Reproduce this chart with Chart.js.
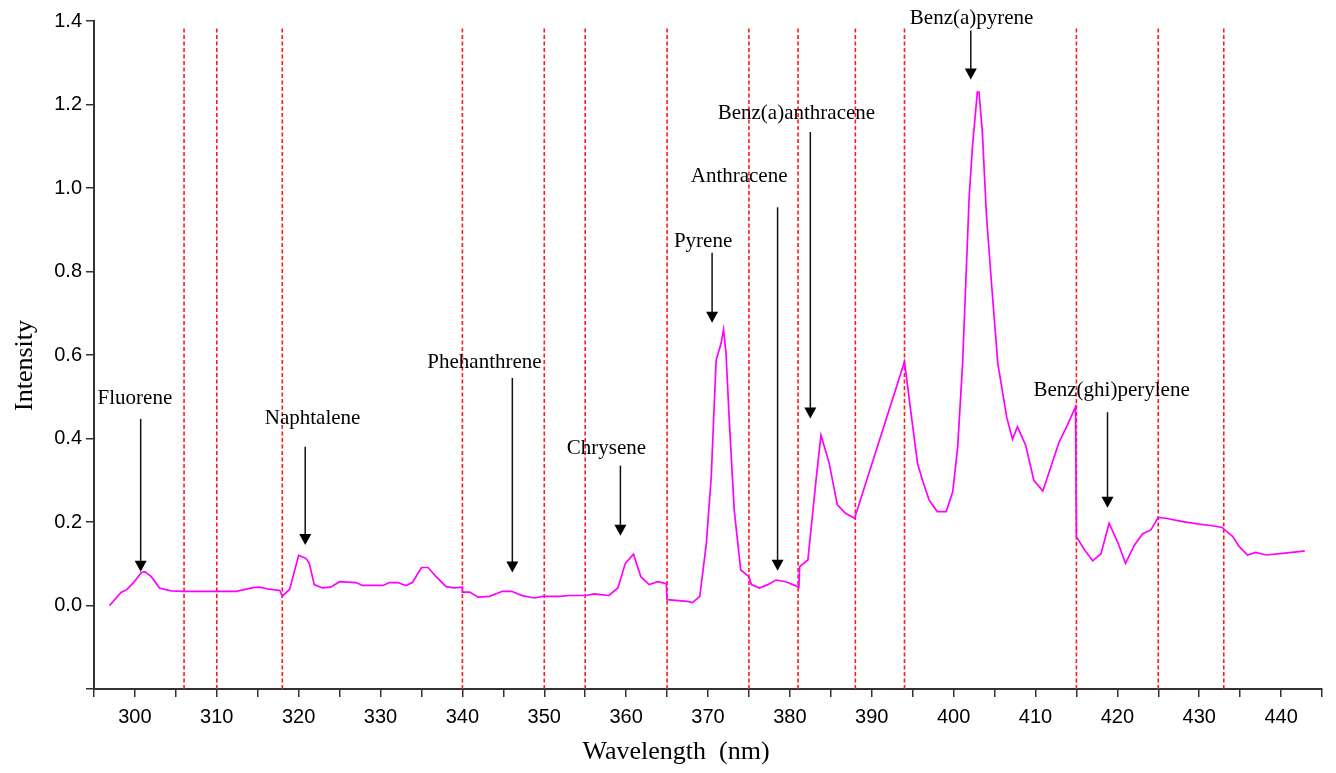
<!DOCTYPE html>
<html>
<head>
<meta charset="utf-8">
<script src="https://cdn.jsdelivr.net/npm/chart.js@4"></script>
<style>
  body { margin: 0; background: #fff; }
  #wrap { width: 1336px; height: 773px; }
</style>
</head>
<body>
<div id="wrap"><canvas id="spectrum"></canvas></div>
<script>
// spectrum (nm, intensity)
var wavelength = [
  296.9, 298.3, 299.0, 299.8, 300.8, 301.2, 302.0, 303.0, 304.4, 305.9,
  312.4, 314.4, 315.2, 316.4, 317.7, 318.0, 318.9, 320.0, 320.9, 321.3,
  321.9, 322.9, 323.9, 325.0, 327.0, 327.8, 330.3, 331.1, 332.1, 333.1,
  333.9, 335.0, 335.8, 336.8, 338.0, 339.0, 340.0, 340.0, 340.9, 341.9,
  343.3, 344.9, 346.0, 347.4, 348.8, 349.8, 351.9, 353.1, 355.1, 356.1,
  356.9, 357.9, 359.0, 359.9, 360.9, 361.8, 362.8, 363.9, 364.9, 365.0,
  367.5, 368.1, 369.0, 369.8, 370.4, 370.7, 371.0, 371.6, 371.9, 372.2,
  372.6, 373.2, 374.0, 375.0, 375.3, 376.3, 377.3, 378.3, 379.5, 381.1,
  381.2, 382.2, 382.6, 383.2, 383.8, 384.8, 385.8, 386.8, 387.9, 388.1,
  394.0, 395.0, 395.6, 396.2, 397.0, 398.0, 399.1, 399.9, 400.5, 401.1,
  401.5, 401.9, 402.3, 402.9, 403.1, 403.5, 404.0, 404.6, 405.4, 406.5,
  407.2, 407.8, 408.8, 409.8, 410.9, 411.9, 412.9, 413.9, 414.9, 415.0,
  416.0, 417.0, 418.0, 419.0, 420.1, 421.0, 422.1, 423.1, 424.1, 425.0,
  425.9, 428.0, 430.0, 431.6, 432.8, 434.1, 434.9, 435.9, 436.9, 438.2,
  440.2, 442.2, 442.9
];
var intensity = [
  0.000, 0.031, 0.038, 0.054, 0.079, 0.081, 0.069, 0.042, 0.035, 0.034,
  0.034, 0.043, 0.044, 0.039, 0.036, 0.022, 0.039, 0.120, 0.113, 0.101,
  0.050, 0.042, 0.044, 0.057, 0.055, 0.048, 0.048, 0.055, 0.055, 0.048,
  0.055, 0.091, 0.091, 0.069, 0.045, 0.042, 0.044, 0.032, 0.032, 0.020,
  0.022, 0.034, 0.034, 0.023, 0.018, 0.022, 0.022, 0.024, 0.024, 0.028,
  0.026, 0.024, 0.042, 0.101, 0.123, 0.069, 0.050, 0.057, 0.052, 0.014,
  0.010, 0.007, 0.022, 0.149, 0.309, 0.452, 0.588, 0.628, 0.661, 0.604,
  0.444, 0.229, 0.085, 0.069, 0.050, 0.042, 0.050, 0.061, 0.057, 0.044,
  0.093, 0.109, 0.185, 0.301, 0.408, 0.341, 0.241, 0.221, 0.209, 0.221,
  0.584, 0.430, 0.340, 0.300, 0.253, 0.225, 0.225, 0.273, 0.380, 0.580,
  0.779, 0.978, 1.098, 1.230, 1.230, 1.138, 0.939, 0.779, 0.580, 0.450,
  0.398, 0.428, 0.384, 0.300, 0.274, 0.333, 0.392, 0.432, 0.476, 0.165,
  0.133, 0.107, 0.124, 0.197, 0.149, 0.101, 0.145, 0.172, 0.181, 0.211,
  0.209, 0.201, 0.195, 0.191, 0.187, 0.165, 0.141, 0.121, 0.127, 0.121,
  0.125, 0.129, 0.131
];

// red dotted window boundaries (nm)
var windowEdges = [306, 310, 318, 340, 350, 355, 365, 375, 381, 388, 394, 415, 425, 433];

// peak labels
var compounds  = ['Fluorene', 'Naphtalene', 'Phehanthrene', 'Chrysene', 'Pyrene', 'Anthracene', 'Benz(a)anthracene', 'Benz(a)pyrene', 'Benz(ghi)perylene'];
var labelNm    = [300.0, 321.7, 342.7, 357.6, 369.4, 373.8, 380.8, 402.2, 419.3];
var labelInt   = [0.497, 0.449, 0.583, 0.377, 0.872, 1.028, 1.179, 1.406, 0.516];
var arrowNm    = [300.7, 320.8, 346.1, 359.3, 370.5, 378.5, 382.5, 402.1, 418.8];
var arrowFrom  = [0.447, 0.380, 0.545, 0.335, 0.845, 0.954, 1.134, 1.377, 0.463];
var arrowTo    = [0.081, 0.145, 0.079, 0.167, 0.677, 0.083, 0.448, 1.260, 0.234];

var yTicks = [-0.2, 0, 0.2, 0.4, 0.6, 0.8, 1.0, 1.2, 1.4];
var xTitle = 'Wavelength  (nm)';
var yTitle = 'Intensity';

var serif = '"Liberation Serif", "Times New Roman", serif';
var sans = '"Liberation Sans", Arial, sans-serif';

var spectrumData = wavelength.map(function (w, i) { return { x: w, y: intensity[i] }; });

var edgeSets = windowEdges.map(function (w) {
  return {
    data: [{ x: w, y: -0.2 }, { x: w, y: 1.385 }],
    borderColor: 'rgb(255,25,25)',
    borderWidth: 1.6,
    borderDash: [4, 2.5],
    pointRadius: 0,
    order: 2
  };
});

// labels + arrows, and the two axis titles (they sit off-centre in the original)
var peakLabels = {
  id: 'peakLabels',
  afterDatasetsDraw: function (chart) {
    var ctx = chart.ctx, xs = chart.scales.x, ys = chart.scales.y;
    ctx.save();
    ctx.fillStyle = '#000';
    ctx.strokeStyle = '#111';
    ctx.lineWidth = 1.5;
    ctx.font = '21px ' + serif;
    ctx.textAlign = 'center';
    ctx.textBaseline = 'middle';
    for (var i = 0; i < compounds.length; i++) {
      ctx.fillText(compounds[i], xs.getPixelForValue(labelNm[i]), ys.getPixelForValue(labelInt[i]));
      var ax = xs.getPixelForValue(arrowNm[i]);
      var top = ys.getPixelForValue(arrowFrom[i]);
      var tip = ys.getPixelForValue(arrowTo[i]);
      ctx.beginPath();
      ctx.moveTo(ax, top);
      ctx.lineTo(ax, tip - 9);
      ctx.stroke();
      ctx.beginPath();
      ctx.moveTo(ax - 6, tip - 11);
      ctx.lineTo(ax + 6, tip - 11);
      ctx.lineTo(ax, tip);
      ctx.closePath();
      ctx.fill();
    }

    ctx.font = '26px ' + serif;
    ctx.fillText(xTitle, xs.getPixelForValue(366.1), chart.height - 21);
    ctx.translate(25, ys.getPixelForValue(0.575));
    ctx.rotate(-Math.PI / 2);
    ctx.fillText(yTitle, 0, 0);
    ctx.restore();
  }
};

new Chart(document.getElementById('spectrum'), {
  type: 'line',
  data: {
    datasets: [{
      data: spectrumData,
      borderColor: '#ff00ff',
      borderWidth: 1.7,
      pointRadius: 0,
      tension: 0,
      order: 1
    }].concat(edgeSets)
  },
  options: {
    responsive: true,
    maintainAspectRatio: false,
    animation: false,
    layout: { padding: { top: 21, right: 14, left: 0, bottom: 0 } },
    plugins: { legend: { display: false }, tooltip: { enabled: false } },
    scales: {
      x: {
        type: 'linear',
        min: 295,
        max: 445,
        afterFit: function (s) { s.height = 84; },
        ticks: {
          stepSize: 5,
          autoSkip: false,
          maxRotation: 0,
          padding: 8,
          color: '#000',
          font: { family: sans, size: 20 },
          callback: function (v) { return v % 10 === 0 ? String(v) : ''; }
        },
        grid: { drawOnChartArea: false, tickLength: 8, color: '#333', lineWidth: 1.5 },
        border: { color: '#333', width: 2 }
      },
      y: {
        min: -0.2,
        max: 1.4,
        afterFit: function (s) { s.width = 94; },
        afterBuildTicks: function (s) { s.ticks = yTicks.map(function (v) { return { value: v }; }); },
        ticks: {
          padding: 4,
          color: '#000',
          font: { family: sans, size: 20 },
          callback: function (v) { return v < -0.01 ? '' : v.toFixed(1); }
        },
        grid: { drawOnChartArea: false, tickLength: 8, color: '#333', lineWidth: 1.5 },
        border: { color: '#333', width: 2 }
      }
    }
  },
  plugins: [peakLabels]
});
</script>
</body>
</html>
